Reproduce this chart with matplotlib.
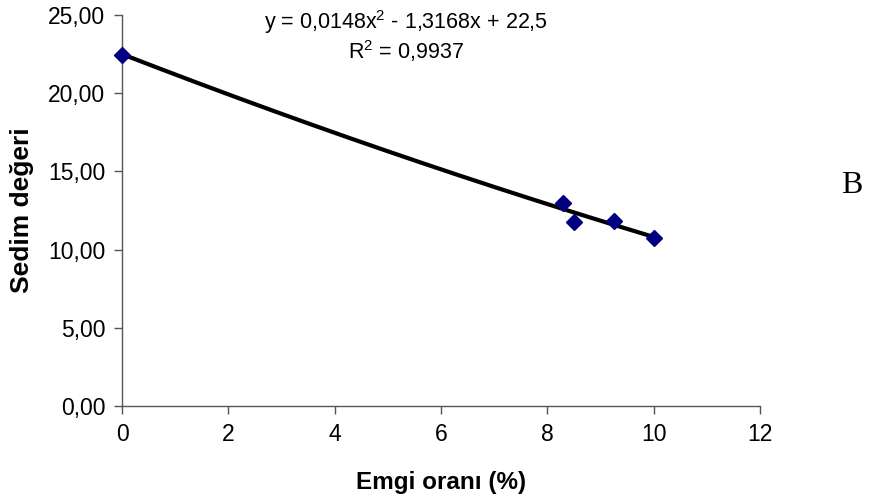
import numpy as np
import matplotlib.pyplot as plt
from matplotlib.ticker import FuncFormatter

# measured points
emgi = [0.0, 8.30, 8.50, 9.26, 10.01]
sedim = [22.44, 13.0, 11.78, 11.83, 10.76]

# trend line coefficients as printed on the chart (a, b, c)
trend_coef = [0.0148, -1.3168, 22.5]
trend_text = 'y = 0,0148x$^2$ - 1,3168x + 22,5'
r2_text = 'R$^2$ = 0,9937'

plt.rcParams['font.family'] = ['Liberation Sans', 'DejaVu Sans']
plt.rcParams['mathtext.fontset'] = 'custom'
plt.rcParams['mathtext.rm'] = 'Liberation Sans'

fig = plt.figure(figsize=(8.76, 5.01), dpi=100)
ax = fig.add_axes([0.1393, 0.1896, 0.7283, 0.7804])

xs = np.linspace(min(emgi), max(emgi), 200)
ax.plot(xs, np.polyval(trend_coef, xs), color='black', linewidth=3.0, zorder=2)
ax.plot(emgi, sedim, linestyle='none', marker='D', markersize=8,
        color='#000080', zorder=3, clip_on=False)

ax.set_xlim(0, 12)
ax.set_ylim(0, 25)
ax.set_xticks(range(0, 13, 2))
ax.set_yticks(np.arange(0, 26, 5))
ax.yaxis.set_major_formatter(FuncFormatter(lambda v, p: ('%.2f' % v).replace('.', ',')))

for side in ['top', 'right']:
    ax.spines[side].set_visible(False)
for side in ['left', 'bottom']:
    ax.spines[side].set_color('#555555')
    ax.spines[side].set_linewidth(1.0)
ax.tick_params(direction='out', length=6, width=1.0, color='#555555',
               labelsize=16.5, pad=6)

ax.set_xlabel('Emgi oranı (%)', fontsize=17.5, fontweight='bold', labelpad=18)
ax.set_ylabel('Sedim değeri', fontsize=19, fontweight='bold', labelpad=10)

fig.text(0.463, 0.955, trend_text, fontsize=15.5, ha='center', va='center')
fig.text(0.463, 0.898, r2_text, fontsize=15.5, ha='center', va='center')
fig.text(0.985, 0.630, 'B', fontsize=23, ha='right', va='center',
         family='Liberation Serif')

fig.savefig('out.png', dpi=100)
